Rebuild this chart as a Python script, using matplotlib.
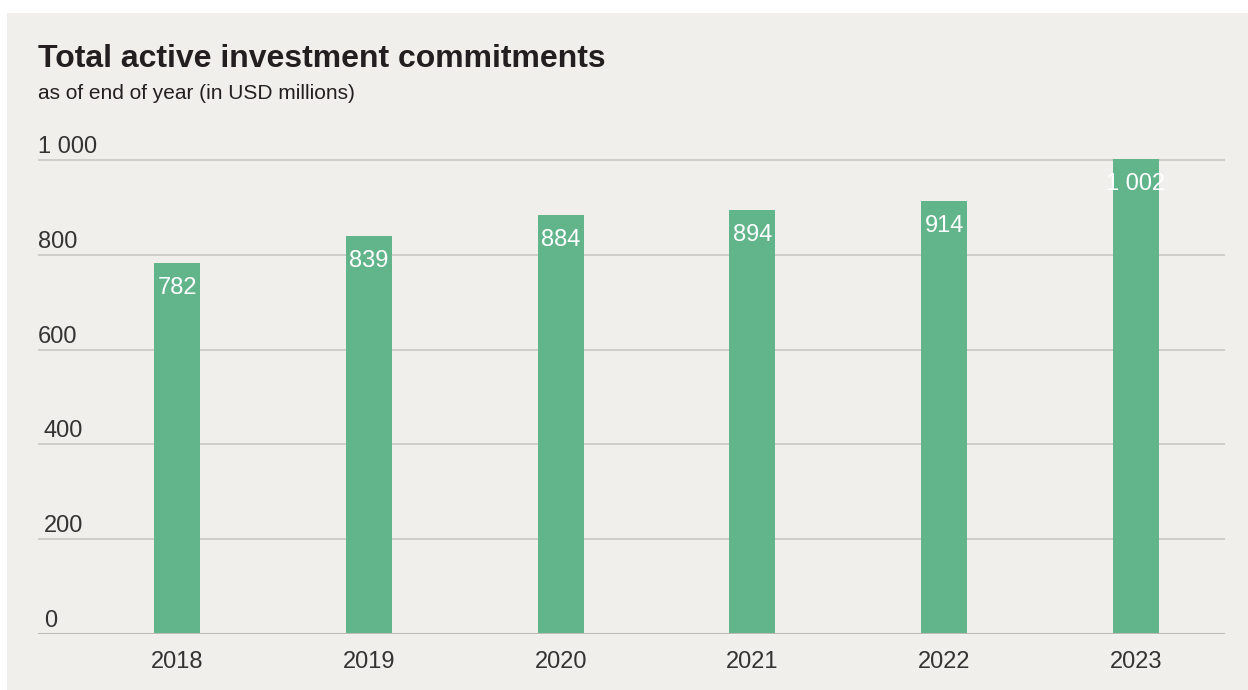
import matplotlib.pyplot as plt
from matplotlib.patches import Rectangle
from matplotlib.transforms import blended_transform_factory

# Données : engagements actifs en fin d'année (millions USD)
years = ["2018", "2019", "2020", "2021", "2022", "2023"]
values = [782, 839, 884, 894, 914, 1002]
value_labels = ["782", "839", "884", "894", "914", "1 002"]
y_ticks = [0, 200, 400, 600, 800, 1000]
y_tick_labels = ["0", "200", "400", "600", "800", "1 000"]

plt.rcParams['font.family'] = ['Liberation Sans', 'DejaVu Sans']

W, H = 1248, 690
bg = "#f0efeb"
green = "#62b48b"

fig = plt.figure(figsize=(W / 100, H / 100), dpi=100, facecolor="white")
# panneau gris clair derrière le graphique
fig.patches.append(Rectangle((7 / W, 0), 1 - 7 / W, (H - 13) / H,
                             transform=fig.transFigure, facecolor=bg,
                             edgecolor="none", zorder=-10))

y_top = 1010
ax_h = 474 * y_top / 1000
ax = fig.add_axes([38 / W, (H - 634) / H, 1187 / W, ax_h / H])
ax.set_facecolor("none")

x = list(range(len(years)))
ax.bar(x, values, width=0.24, color=green, zorder=3)
ax.set_xlim(-0.725, 5.464)
ax.set_ylim(0, y_top)

# lignes de grille horizontales
for t in y_ticks[1:]:
    ax.axhline(t, color="#cac8c4", linewidth=1.2, zorder=1)
ax.axhline(0, color="#bdbbb7", linewidth=2.2, zorder=4)

for s in ax.spines.values():
    s.set_visible(False)
ax.set_yticks([])
ax.set_xticks(x)
ax.set_xticklabels(years, fontsize=17, color="#333333")
ax.tick_params(axis="x", length=0, pad=12)

# étiquettes de l'axe y au-dessus des lignes (les petites valeurs un peu décalées)
trans = blended_transform_factory(ax.transAxes, ax.transData)
for t, lab in zip(y_ticks, y_tick_labels):
    dx = 6 if t < 600 else 0
    ax.annotate(lab, (0, t), xycoords=trans, xytext=(dx, 7),
                textcoords="offset pixels", ha="left", va="baseline",
                fontsize=17, color="#333333")

# valeurs en blanc en haut des barres
for xi, v, lab in zip(x, values, value_labels):
    ax.annotate(lab, (xi, v), xytext=(0, -31), textcoords="offset pixels",
                ha="center", va="baseline", fontsize=17, color="white",
                zorder=5)

fig.text(38 / W, 1 - 67 / H, "Total active investment commitments",
         fontsize=23, fontweight="bold", color="#231f20", ha="left",
         va="baseline")
fig.text(38 / W, 1 - 99 / H, "as of end of year (in USD millions)",
         fontsize=15, color="#231f20", ha="left", va="baseline")

fig.savefig("out.png", dpi=100, facecolor=fig.get_facecolor())
